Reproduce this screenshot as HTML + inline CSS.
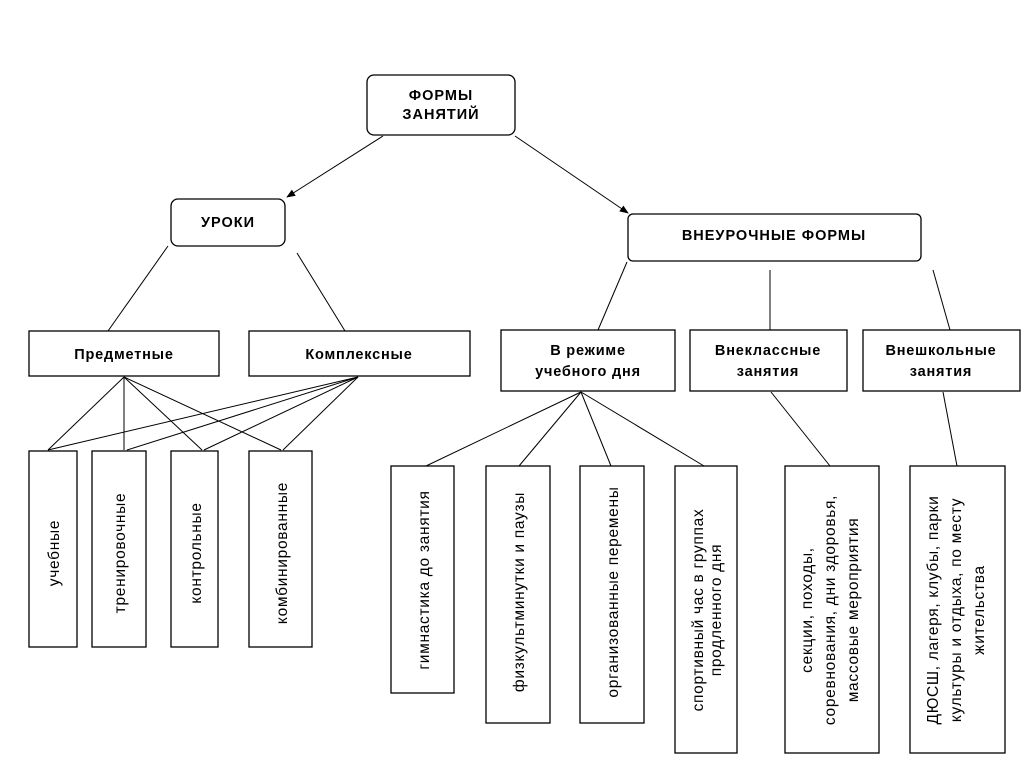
<!DOCTYPE html>
<html><head><meta charset="utf-8"><style>
html,body{margin:0;padding:0;background:#fff}
svg{display:block}
text{font-family:"Liberation Sans","DejaVu Sans",sans-serif;fill:#000}
.b{font-weight:bold;font-size:14.5px;letter-spacing:1px}
.n{font-size:14.5px;letter-spacing:0.8px}
.v{font-size:15.5px;letter-spacing:0.7px}
</style></head><body>
<svg width="1024" height="767" viewBox="0 0 1024 767" xmlns="http://www.w3.org/2000/svg">
<defs><marker id="ah" viewBox="0 0 10 10" refX="9" refY="5" markerWidth="9" markerHeight="9" orient="auto"><path d="M0,1 L10,5 L0,9 z" fill="#000"/></marker></defs>
<g fill="#fff" stroke="#000" stroke-width="1.3">
<rect x="367" y="75" width="148" height="60" rx="7"/>
<rect x="171" y="199" width="114" height="47" rx="7"/>
<rect x="628" y="214" width="293" height="47" rx="5"/>
<rect x="29" y="331" width="190" height="45"/>
<rect x="249" y="331" width="221" height="45"/>
<rect x="501" y="330" width="174" height="61"/>
<rect x="690" y="330" width="157" height="61"/>
<rect x="863" y="330" width="157" height="61"/>
<rect x="29" y="451" width="48" height="196"/>
<rect x="92" y="451" width="54" height="196"/>
<rect x="171" y="451" width="47" height="196"/>
<rect x="249" y="451" width="63" height="196"/>
<rect x="391" y="466" width="63" height="227"/>
<rect x="486" y="466" width="64" height="257"/>
<rect x="580" y="466" width="64" height="257"/>
<rect x="675" y="466" width="62" height="287"/>
<rect x="785" y="466" width="94" height="287"/>
<rect x="910" y="466" width="95" height="287"/>
</g>
<g stroke="#000" stroke-width="1" fill="none">
<line x1="383" y1="136" x2="287" y2="197" marker-end="url(#ah)"/>
<line x1="515" y1="136" x2="628" y2="213" marker-end="url(#ah)"/>
<line x1="168" y1="246" x2="108" y2="331"/>
<line x1="297" y1="253" x2="345" y2="331"/>
<line x1="627" y1="262" x2="598" y2="330"/>
<line x1="770" y1="270" x2="770" y2="330"/>
<line x1="933" y1="270" x2="950" y2="330"/>
<line x1="124" y1="377" x2="48" y2="450"/>
<line x1="124" y1="377" x2="124" y2="450"/>
<line x1="124" y1="377" x2="202" y2="450"/>
<line x1="124" y1="377" x2="281" y2="450"/>
<line x1="358" y1="377" x2="48" y2="450"/>
<line x1="358" y1="377" x2="127" y2="450"/>
<line x1="358" y1="377" x2="204" y2="450"/>
<line x1="358" y1="377" x2="283" y2="450"/>
<line x1="581" y1="392" x2="426" y2="466"/>
<line x1="581" y1="392" x2="519" y2="466"/>
<line x1="581" y1="392" x2="611" y2="466"/>
<line x1="581" y1="392" x2="704" y2="466"/>
<line x1="771" y1="392" x2="830" y2="466"/>
<line x1="943" y1="392" x2="957" y2="466"/>
</g>
<g class="b" text-anchor="middle">
<text x="441" y="100">ФОРМЫ</text>
<text x="441" y="119">ЗАНЯТИЙ</text>
<text x="228" y="227">УРОКИ</text>
<text x="774" y="240">ВНЕУРОЧНЫЕ ФОРМЫ</text>
</g>
<g class="n" text-anchor="middle" font-weight="bold">
<text x="124" y="359">Предметные</text>
<text x="359" y="359">Комплексные</text>
<text x="588" y="355">В режиме</text>
<text x="588" y="376">учебного дня</text>
<text x="768" y="355">Внеклассные</text>
<text x="768" y="376">занятия</text>
<text x="941" y="355">Внешкольные</text>
<text x="941" y="376">занятия</text>
</g>
<g class="v" text-anchor="middle">
<text transform="translate(59,553) rotate(-90)">учебные</text>
<text transform="translate(125,553) rotate(-90)">тренировочные</text>
<text transform="translate(201,553) rotate(-90)">контрольные</text>
<text transform="translate(287,553) rotate(-90)">комбинированные</text>
<text transform="translate(429,580) rotate(-90)">гимнастика до занятия</text>
<text transform="translate(524,592) rotate(-90)">физкультминутки и паузы</text>
<text transform="translate(618,592) rotate(-90)">организованные перемены</text>
<text transform="translate(703,610) rotate(-90)">спортивный час в группах</text>
<text transform="translate(721,610) rotate(-90)">продленного дня</text>
<text transform="translate(812,610) rotate(-90)">секции, походы,</text>
<text transform="translate(835,610) rotate(-90)">соревнования, дни здоровья,</text>
<text transform="translate(858,610) rotate(-90)">массовые мероприятия</text>
<text transform="translate(938,610) rotate(-90)">ДЮСШ, лагеря, клубы, парки</text>
<text transform="translate(961,610) rotate(-90)">культуры и отдыха, по месту</text>
<text transform="translate(984,610) rotate(-90)">жительства</text>
</g>
</svg>
</body></html>
